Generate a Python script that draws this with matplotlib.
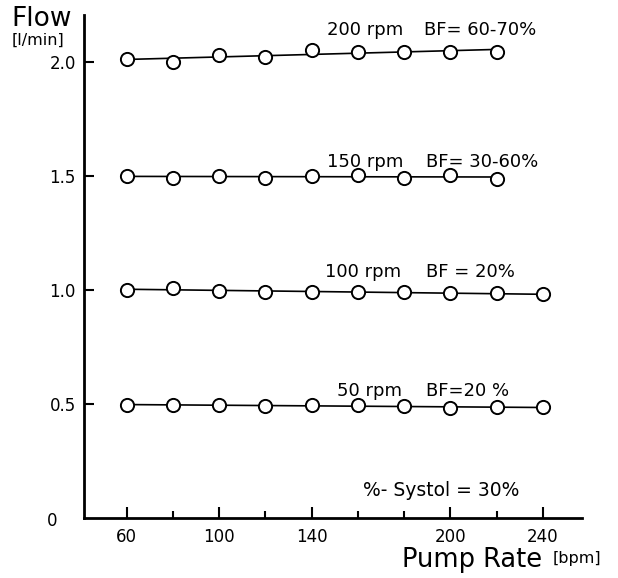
import numpy as np
import matplotlib
matplotlib.use("Agg")
import matplotlib.pyplot as plt

# pump rate (bpm) and measured flow (l/min) per rotor speed
pump_rate = [60, 80, 100, 120, 140, 160, 180, 200, 220, 240]
flow_200 = [2.01, 2.00, 2.03, 2.02, 2.05, 2.045, 2.045, 2.045, 2.045]
flow_150 = [1.50, 1.49, 1.50, 1.49, 1.50, 1.505, 1.49, 1.505, 1.485]
flow_100 = [1.00, 1.01, 0.995, 0.99, 0.99, 0.99, 0.99, 0.985, 0.985, 0.98]
flow_50 = [0.495, 0.495, 0.495, 0.49, 0.495, 0.495, 0.49, 0.48, 0.485, 0.485]

rpm_labels = ["200 rpm", "150 rpm", "100 rpm", "50 rpm"]
bf_labels = ["BF= 60-70%", "BF= 30-60%", "BF = 20%", "BF=20 %"]

x_ticks = [60, 100, 140, 200, 240]
y_ticks = [0.5, 1.0, 1.5, 2.0]

plt.rcParams["font.family"] = "DejaVu Sans"

fig = plt.figure(figsize=(6.18, 5.78), dpi=100)
ax = fig.add_axes([0.136, 0.104, 0.806, 0.870])

# where each curve's labels sit (bpm of rpm text, bpm of BF text, flow)
label_pos = [(146.6, 188.5, 2.14), (146.6, 189.5, 1.561),
             (145.7, 189.5, 1.079), (151.0, 189.5, 0.557)]

for flows, rpm, bf, (xr, xb, ty) in zip([flow_200, flow_150, flow_100, flow_50],
                                       rpm_labels, bf_labels, label_pos):
    xs = np.array(pump_rate[:len(flows)])
    # straight fitted line through the points
    k, d = np.polyfit(xs, flows, 1)
    ax.plot([xs[0], xs[-1]], [k * xs[0] + d, k * xs[-1] + d],
            color="black", lw=1.2, zorder=2)
    ax.plot(xs, flows, "o", ms=9.5, mfc="white", mec="black", mew=1.4, zorder=3)
    ax.text(xr, ty, rpm, fontsize=13, ha="left", va="center")
    ax.text(xb, ty, bf, fontsize=13, ha="left", va="center")

ax.text(162, 0.118, "%- Systol = 30%", fontsize=13.5, ha="left", va="center")

ax.set_xlim(41.5, 257)
ax.set_ylim(0, 2.205)

for side in ["top", "right"]:
    ax.spines[side].set_visible(False)
for side in ["left", "bottom"]:
    ax.spines[side].set_linewidth(2)

ax.set_xticks(x_ticks)
ax.set_xticks(range(60, 241, 20), minor=True)
ax.set_yticks(y_ticks)
ax.set_yticklabels([f"{v:.1f}" for v in y_ticks])
ax.tick_params(axis="x", which="major", direction="in", length=8, width=1.5,
               labelsize=12, pad=7)
ax.tick_params(axis="x", which="minor", direction="in", length=5, width=1.5)
ax.tick_params(axis="y", direction="in", length=7, width=1.5,
               labelsize=12, pad=6)

fig.text(47 / 618, 1 - 521 / 578, "0", fontsize=12, ha="left", va="center")
fig.text(11 / 618, 1 - 19 / 578, "Flow", fontsize=19, ha="left", va="center")
fig.text(12 / 618, 1 - 40 / 578, "[l/min]", fontsize=11.5, ha="left", va="center")
fig.text(402 / 618, 1 - 560 / 578, "Pump Rate", fontsize=18.5, ha="left", va="center")
fig.text(553 / 618, 1 - 558 / 578, "[bpm]", fontsize=11.5, ha="left", va="center")

fig.savefig("out.png", dpi=100)
